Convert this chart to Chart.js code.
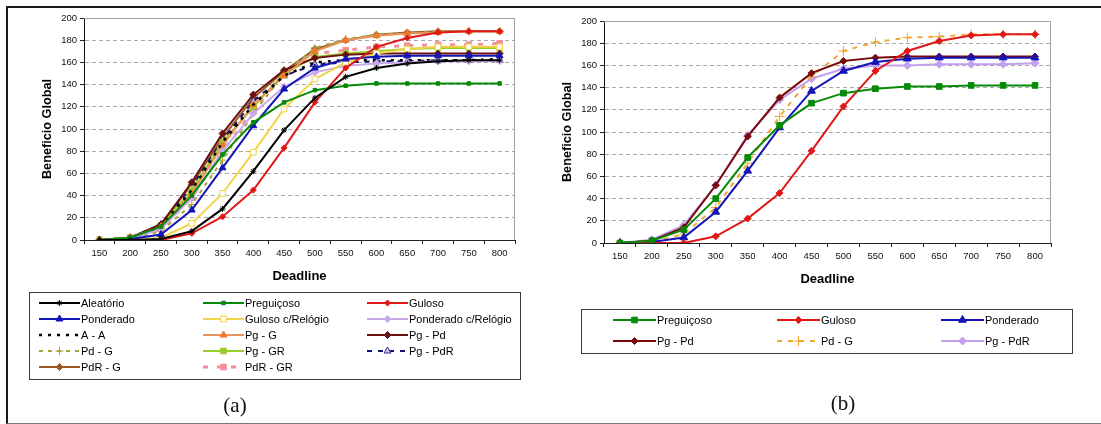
<!DOCTYPE html>
<html>
<head>
<meta charset="utf-8">
<script src="https://cdn.jsdelivr.net/npm/chart.js@4.4.1/dist/chart.umd.min.js"></script>
<style>
	html, body { margin: 0; padding: 0; background: #fff; width: 1101px; height: 424px; overflow: hidden; position: relative; }
	canvas { position: absolute; top: 0; }
	#frame { position: absolute; left: 6px; top: 6px; width: 1200px; height: 415px; border-left: 2px solid #1a1a1a; border-top: 2px solid #1a1a1a; border-bottom: 1px solid #777; }
	.cap { position: absolute; font-family: "Liberation Serif", "Times New Roman", serif; font-size: 21px; color: #111; transform: translate(-50%, -50%); }
</style>
</head>
<body>
<div id="frame"></div>
<canvas id="chartA" width="550" height="424" style="left:0"></canvas>
<canvas id="chartB" width="551" height="424" style="left:550px"></canvas>
<div class="cap" style="left:235px;top:405px">(a)</div>
<div class="cap" style="left:843px;top:403px">(b)</div>
<script>
// x categories (deadline)
const deadlines = ['150', '200', '250', '300', '350', '400', '450', '500', '550', '600', '650', '700', '750', '800']

// figure (a)
const aleatorio       = [0, 0, 1, 8, 28, 62, 99, 128, 147, 155, 159, 161, 162, 162]
const preguicoso      = [0, 2, 12, 40, 77, 106, 124, 135, 139, 141, 141, 141, 141, 141]
const guloso          = [0, 0, 0, 6, 21, 45, 83, 124, 155, 174, 182, 187, 188, 188]
const ponderado       = [0, 1, 5, 27, 65, 103, 136, 155, 163, 165, 166, 166, 166, 166]
const gulosoRelogio   = [0, 0, 2, 15, 42, 79, 118, 145, 160, 168, 172, 174, 174, 174]
const ponderadoRelog  = [0, 1, 10, 38, 80, 114, 138, 151, 157, 159, 160, 161, 161, 161]
const aA              = [0, 1, 12, 45, 88, 122, 148, 160, 162, 162, 162, 162, 162, 163]
const pgG             = [0, 2, 12, 42, 85, 122, 148, 170, 180, 184, 186, 187, 188, 188]
const pgPd            = [0, 2, 14, 52, 96, 131, 153, 164, 167, 168, 168, 168, 168, 168]
const pdG             = [0, 1, 8, 32, 72, 114, 150, 173, 181, 185, 186, 188, 188, 188]
const pgGR            = [0, 2, 13, 45, 88, 120, 150, 165, 168, 170, 172, 173, 173, 173]
const pgPdR           = [0, 2, 14, 48, 90, 125, 148, 158, 160, 161, 161, 162, 162, 162]
const pdrG            = [0, 2, 14, 50, 92, 128, 152, 172, 180, 185, 187, 188, 188, 188]
const pdrGR           = [0, 2, 10, 38, 80, 117, 150, 168, 171, 174, 175, 176, 176, 177]

// figure (b)
const preguicosoB = [0, 2, 12, 40, 77, 106, 126, 135, 139, 141, 141, 142, 142, 142]
const gulosoB     = [0, 0, 0, 6, 22, 45, 83, 123, 155, 173, 182, 187, 188, 188]
const ponderadoB  = [0, 1, 5, 28, 65, 104, 137, 155, 163, 166, 167, 167, 167, 167]
const pgPdB       = [0, 2, 14, 52, 96, 131, 153, 164, 167, 168, 168, 168, 168, 168]
const pdGB        = [0, 1, 8, 32, 72, 114, 150, 173, 181, 185, 186, 188, 188, 188]
const pgPdRB      = [0, 3, 16, 52, 97, 129, 148, 157, 160, 160, 161, 161, 161, 162]

const FONT = '"Liberation Sans", Arial, sans-serif'

function serie(label, data, color, pointStyle, extra) {
	return Object.assign({
		label: label,
		data: data,
		borderColor: color,
		backgroundColor: color,
		borderWidth: 2,
		pointStyle: pointStyle,
		pointRadius: 3.5,
		pointBackgroundColor: color,
		pointBorderColor: color,
		pointBorderWidth: 1,
		tension: 0,
		fill: false
	}, extra || {})
}

// legend drawn inside the canvas: line sample with marker, then text
const boxLegend = {
	id: 'boxLegend',
	afterDraw(chart, args, o) {
		const ctx = chart.ctx
		ctx.save()
		ctx.lineWidth = 1
		ctx.strokeStyle = '#3a3a3a'
		ctx.strokeRect(o.x + 0.5, o.y + 0.5, o.w, o.h)
		ctx.font = '11px ' + FONT
		ctx.textBaseline = 'middle'
		chart.data.datasets.forEach((ds, i) => {
			const x = o.cols[i % o.cols.length]
			const y = o.rows[Math.floor(i / o.cols.length)]
			ctx.setLineDash(ds.borderDash || [])
			ctx.strokeStyle = ds.borderColor
			ctx.lineWidth = ds.borderWidth
			ctx.beginPath()
			ctx.moveTo(x, y)
			ctx.lineTo(x + o.sample, y)
			ctx.stroke()
			ctx.setLineDash([])
			if (ds.pointRadius) {
				ctx.fillStyle = ds.pointBackgroundColor
				ctx.strokeStyle = ds.pointBorderColor
				ctx.lineWidth = 1
				Chart.helpers.drawPoint(ctx, { pointStyle: ds.pointStyle, radius: ds.pointRadius, borderWidth: 1, rotation: 0 }, x + o.sample / 2, y)
			}
			ctx.fillStyle = '#000'
			ctx.fillText(ds.label, x + o.sample + 1, y + 0.5)
		})
		ctx.restore()
	}
}

// grey top/right edge of the plot area
const plotEdge = {
	id: 'plotEdge',
	beforeDatasetsDraw(chart) {
		const { ctx, chartArea: a } = chart
		ctx.save()
		ctx.strokeStyle = '#a0a0a0'
		ctx.lineWidth = 1
		ctx.beginPath()
		ctx.moveTo(a.left, a.top + 0.5)
		ctx.lineTo(a.right - 0.5, a.top + 0.5)
		ctx.lineTo(a.right - 0.5, a.bottom)
		ctx.stroke()
		ctx.restore()
	}
}

function options(pad, legend) {
	return {
		responsive: false,
		animation: false,
		devicePixelRatio: 1,
		layout: { padding: pad },
		plugins: {
			legend: { display: false },
			tooltip: { enabled: false },
			boxLegend: legend
		},
		scales: {
			x: {
				type: 'category',
				offset: true,
				afterFit: s => { s.height = 45 },
				grid: { offset: true, drawOnChartArea: false, tickLength: 4, color: '#222' },
				border: { color: '#222', width: 1 },
				ticks: { color: '#111', font: { family: FONT, size: 9.5 }, padding: 4, maxRotation: 0 },
				title: { display: true, text: 'Deadline', color: '#000', font: { family: FONT, size: 13, weight: 'bold' }, padding: { top: 0, bottom: 1 } }
			},
			y: {
				min: 0,
				max: 200,
				afterFit: s => { s.width = 48 },
				grid: { color: '#a8a8a8', tickLength: 4, tickColor: '#222', tickBorderDash: [] },
				border: { color: '#111', width: 1, dash: [4, 3] },
				ticks: { stepSize: 20, color: '#111', font: { family: FONT, size: 9.5 }, padding: 3 },
				title: { display: true, text: 'Beneficio Global', color: '#000', font: { family: FONT, size: 12.7, weight: 'bold' }, padding: { top: 4, bottom: 0 } }
			}
		}
	}
}

new Chart(document.getElementById('chartA'), {
	type: 'line',
	data: {
		labels: deadlines,
		datasets: [
			serie('Aleatório', aleatorio, '#000000', 'star', { pointRadius: 3 }),
			serie('Preguiçoso', preguicoso, '#078a07', 'rect', { pointRadius: 2.5 }),
			serie('Guloso', guloso, '#e01818', 'rectRot', { pointRadius: 3 }),
			serie('Ponderado', ponderado, '#1515b5', 'triangle', { pointRadius: 4 }),
			serie('Guloso c/Relógio', gulosoRelogio, '#f2d44a', 'rect', { pointRadius: 4, pointBackgroundColor: '#ffffff' }),
			serie('Ponderado c/Relógio', ponderadoRelog, '#c9a9ea', 'rectRot', { pointRadius: 3.5 }),
			serie('A - A', aA, '#000000', 'circle', { pointRadius: 0, borderWidth: 2.5, borderDash: [3, 6] }),
			serie('Pg - G', pgG, '#e8955a', 'triangle', { pointRadius: 4, pointBackgroundColor: '#f07a2a', pointBorderColor: '#f07a2a' }),
			serie('Pg - Pd', pgPd, '#6a1010', 'rectRot', { pointRadius: 3.5 }),
			serie('Pd - G', pdG, '#a4a43c', 'cross', { pointRadius: 4, borderDash: [4, 5] }),
			serie('Pg - GR', pgGR, '#9acd2a', 'rect', { pointRadius: 4 }),
			serie('Pg - PdR', pgPdR, '#101070', 'triangle', { pointRadius: 4, borderDash: [5, 6], pointBackgroundColor: '#c8c8f0', pointBorderColor: '#303090' }),
			serie('PdR - G', pdrG, '#9a5a22', 'rectRot', { pointRadius: 3.5 }),
			serie('PdR - GR', pdrGR, '#f2909a', 'rect', { pointRadius: 4, borderWidth: 3, borderDash: [5, 9] })
		]
	},
	options: options({ left: 36, right: 35, top: 18, bottom: 139 },
		{ x: 29, y: 292, w: 491, h: 87, cols: [39, 203, 367], rows: [303, 319, 335, 351, 367], sample: 41 }),
	plugins: [plotEdge, boxLegend]
})

new Chart(document.getElementById('chartB'), {
	type: 'line',
	data: {
		labels: deadlines,
		datasets: [
			serie('Preguiçoso', preguicosoB, '#078a07', 'rect', { pointRadius: 4 }),
			serie('Guloso', gulosoB, '#e01818', 'rectRot', { pointRadius: 3.5 }),
			serie('Ponderado', ponderadoB, '#1515b5', 'triangle', { pointRadius: 4.5 }),
			serie('Pg - Pd', pgPdB, '#7a0a0a', 'rectRot', { pointRadius: 3.5 }),
			serie('Pd - G', pdGB, '#f0a830', 'cross', { pointRadius: 5, borderDash: [5, 6] }),
			serie('Pg - PdR', pgPdRB, '#c39ff0', 'rectRot', { pointRadius: 4 })
		]
	},
	options: options({ left: 6, right: 50, top: 21, bottom: 136 },
		{ x: 31, y: 309, w: 491, h: 44, cols: [63, 227, 391], rows: [320, 341], sample: 43 }),
	plugins: [plotEdge, boxLegend]
})
</script>
</body>
</html>
